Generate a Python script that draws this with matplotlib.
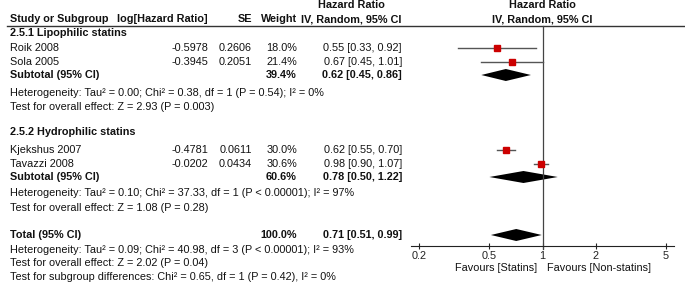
import numpy as np
import matplotlib.pyplot as plt

plt.rcParams['font.family'] = ['Liberation Sans', 'DejaVu Sans']

# study level data
studies = ['Roik 2008', 'Sola 2005', 'Kjekshus 2007', 'Tavazzi 2008']
log_hr = ['-0.5978', '-0.3945', '-0.4781', '-0.0202']
se = ['0.2606', '0.2051', '0.0611', '0.0434']
weights = [18.0, 21.4, 30.0, 30.6]
hr = [0.55, 0.67, 0.62, 0.98]
hr_lo = [0.33, 0.45, 0.55, 0.90]
hr_hi = [0.92, 1.01, 0.70, 1.07]

# pooled estimates: subtotal 1, subtotal 2, total
pooled_labels = ['Subtotal (95% CI)', 'Subtotal (95% CI)', 'Total (95% CI)']
pooled_weight = ['39.4%', '60.6%', '100.0%']
pooled_hr = [0.62, 0.78, 0.71]
pooled_lo = [0.45, 0.50, 0.51]
pooled_hi = [0.86, 1.22, 0.99]

groups = ['2.5.1 Lipophilic statins', '2.5.2 Hydrophilic statins']
notes = [
    ['Heterogeneity: Tau\u00b2 = 0.00; Chi\u00b2 = 0.38, df = 1 (P = 0.54); I\u00b2 = 0%',
     'Test for overall effect: Z = 2.93 (P = 0.003)'],
    ['Heterogeneity: Tau\u00b2 = 0.10; Chi\u00b2 = 37.33, df = 1 (P < 0.00001); I\u00b2 = 97%',
     'Test for overall effect: Z = 1.08 (P = 0.28)'],
    ['Heterogeneity: Tau\u00b2 = 0.09; Chi\u00b2 = 40.98, df = 3 (P < 0.00001); I\u00b2 = 93%',
     'Test for overall effect: Z = 2.02 (P = 0.04)',
     'Test for subgroup differences: Chi\u00b2 = 0.65, df = 1 (P = 0.42), I\u00b2 = 0%'],
]
ticks = [0.2, 0.5, 1, 2, 5]
tick_labels = ['0.2', '0.5', '1', '2', '5']

# layout (pixel rows)
W, H = 685, 285
study_y = [48, 62, 150, 164]
group_y = [33, 132]
pooled_y = [75, 177, 235]
note_y = [[93, 107], [193, 208], [250, 263, 277]]
fs = 7.8
col = '#111111'

fig = plt.figure(figsize=(W / 100, H / 100), dpi=100)
ax = fig.add_axes([0, 0, 1, 1])
ax.set_xlim(0, W)
ax.set_ylim(H, 0)
ax.axis('off')

def txt(x, y, s, ha='left', bold=False):
    ax.text(x, y, s, ha=ha, va='center', fontsize=fs, color=col,
            fontweight='bold' if bold else 'normal')

# header
txt(351, 5, 'Hazard Ratio', ha='center', bold=True)
txt(542, 5, 'Hazard Ratio', ha='center', bold=True)
txt(10, 19, 'Study or Subgroup', bold=True)
txt(208, 19, 'log[Hazard Ratio]', ha='right', bold=True)
txt(252, 19, 'SE', ha='right', bold=True)
txt(297, 19, 'Weight', ha='right', bold=True)
txt(351, 19, 'IV, Random, 95% CI', ha='center', bold=True)
txt(542, 19, 'IV, Random, 95% CI', ha='center', bold=True)
ax.plot([7, W], [25.5, 25.5], color='#333333', lw=1)

for g, y in zip(groups, group_y):
    txt(10, y, g, bold=True)

for i, y in enumerate(study_y):
    txt(10, y, studies[i])
    txt(208, y, log_hr[i], ha='right')
    txt(252, y, se[i], ha='right')
    txt(297, y, '%.1f%%' % weights[i], ha='right')
    txt(402, y, '%.2f [%.2f, %.2f]' % (hr[i], hr_lo[i], hr_hi[i]), ha='right')

for i, y in enumerate(pooled_y):
    txt(10, y, pooled_labels[i], bold=True)
    txt(297, y, pooled_weight[i], ha='right', bold=True)
    txt(402, y, '%.2f [%.2f, %.2f]' % (pooled_hr[i], pooled_lo[i], pooled_hi[i]),
        ha='right', bold=True)

for lines, ys in zip(notes, note_y):
    for s, y in zip(lines, ys):
        txt(10, y, s)

txt(537, 268, 'Favours [Statins]', ha='right')
txt(547, 268, 'Favours [Non-statins]')

# forest panel, y in the same pixel rows
x0, x1, ytop, yax = 411, 674, 25.5, 246
fx = fig.add_axes([x0 / W, (H - yax) / H, (x1 - x0) / W, (yax - ytop) / H])
fx.set_xscale('log')
fx.set_xlim(10 ** -0.745, 10 ** 0.745)
fx.set_ylim(yax, ytop)
fx.patch.set_alpha(0)
for s in ['top', 'left', 'right']:
    fx.spines[s].set_visible(False)
fx.spines['bottom'].set_color('#222222')
fx.set_yticks([])
fx.set_xticks(ticks)
fx.set_xticklabels(tick_labels)
fx.minorticks_off()
fx.tick_params(axis='x', direction='inout', length=5, width=0.8, labelsize=fs,
               pad=1, colors='#222222')
fx.axvline(1, ymin=-0.015, ymax=1, color='#444444', lw=0.9, clip_on=False)

for i, y in enumerate(study_y):
    fx.plot([hr_lo[i], hr_hi[i]], [y, y], color='#555555', lw=1)
    fx.plot(hr[i], y, marker='s', color='#cc0000', ms=0.86 * np.sqrt(weights[i]),
            mec='#cc0000')

for i, y in enumerate(pooled_y):
    h = 6
    fx.fill([pooled_lo[i], pooled_hr[i], pooled_hi[i], pooled_hr[i]],
            [y, y - h, y, y + h], color='black', lw=0)

fig.savefig('out.png', dpi=100)
